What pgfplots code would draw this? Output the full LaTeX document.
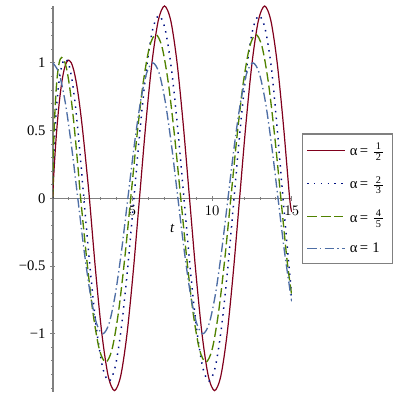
\documentclass[border=0pt]{standalone}
\usepackage{amsmath}
\usepackage{fontspec}
\setmainfont{Liberation Serif}
\usepackage{pgfplots}
\pgfplotsset{compat=1.18}

\definecolor{mplred}{RGB}{128,0,28}
\definecolor{mplblue}{RGB}{0,16,130}
\definecolor{mplgreen}{RGB}{80,130,0}
\definecolor{mplslate}{RGB}{78,110,165}
\definecolor{axgray}{RGB}{128,128,128}

\newcommand{\fr}[2]{$\frac{\,\text{#1}\,}{\,\text{#2}\,}$}

\begin{document}
\begin{tikzpicture}[font=\fontsize{11}{13}\selectfont]
\begin{axis}[
    scale only axis,
    width=179.25pt, height=289.5pt,
    xmin=0, xmax=15, ymin=-1.43, ymax=1.42,
    axis lines=middle,
    axis line style={draw=axgray, line width=1.1pt, -},
    hide obscured x ticks=false, hide obscured y ticks=false,
    xtick={5,10,15},
    minor xtick={1,2,3,4,6,7,8,9,11,12,13,14},
    ytick={-1,-0.5,0,0.5,1},
    yticklabels={−1,−0.5,0,0.5,1},
    minor ytick={-1.4,-1.3,-1.2,-1.1,-0.9,-0.8,-0.7,-0.6,-0.4,-0.3,-0.2,-0.1,
                 0.1,0.2,0.3,0.4,0.6,0.7,0.8,0.9,1.1,1.2,1.3,1.4},
    tick style={draw=axgray, line width=0.6pt},
    major tick length=4pt, minor tick length=2.5pt,
    xlabel={\textit{t}},
    xlabel style={at={(axis cs:7.5,-0.22)}, anchor=center},
    legend style={at={(axis cs:15.625,0.482)}, anchor=north west,
                  draw=axgray, line width=1.1pt, row sep=10pt,
                  inner xsep=3pt, inner ysep=5pt,
                  nodes={inner xsep=3pt}},
    legend cell align=left,
    legend image code/.code={\draw[#1] plot coordinates {(0cm,0cm) (1.0cm,0cm)};},
]
\coordinate (bbA) at (axis cs:-3.3125,1.4643);
\coordinate (bbB) at (axis cs:21.6875,-1.4891);

% alpha = 1/2
\addplot[draw=mplred, line width=0.9pt, smooth] coordinates {
 (0,0) (0.02,0.070) (0.05,0.145) (0.1,0.251) (0.2,0.429) (0.3,0.576) (0.4,0.699)
 (0.5,0.800) (0.6,0.882) (0.7,0.944) (0.8,0.986) (0.9,1.012) (1.0,1.02)
 (1.1625,1.0) (1.325,0.942) (1.4875,0.848) (1.65,0.721) (1.8125,0.567)
 (1.975,0.390) (2.1375,0.199) (2.3,0)
 (2.693,-0.543) (3.085,-1.004) (3.478,-1.312) (3.871,-1.420) (4.263,-1.312)
 (4.656,-1.004) (5.049,-0.543) (5.442,0) (5.834,0.543) (6.227,1.004)
 (6.620,1.312) (7.012,1.420) (7.405,1.312) (7.798,1.004) (8.190,0.543)
 (8.583,0) (8.976,-0.543) (9.369,-1.004) (9.761,-1.312) (10.154,-1.420)
 (10.547,-1.312) (10.939,-1.004) (11.332,-0.543) (11.725,0) (12.118,0.543)
 (12.510,1.004) (12.903,1.312) (13.296,1.420) (13.688,1.312) (14.081,1.004)
 (14.474,0.543) (14.867,0) (15,-0.1)
};
\addlegendentry{α\,=\;\fr{1}{2}}

% alpha = 2/3
\addplot[draw=mplblue, line width=1.1pt, smooth, dash pattern=on 1.1pt off 4pt] coordinates {
 (0,0) (0.02,0.147) (0.05,0.264) (0.1,0.407) (0.2,0.614) (0.3,0.760) (0.4,0.867)
 (0.5,0.943) (0.6,0.993) (0.7,1.021) (0.8,1.03)
 (0.94375,1.010) (1.0875,0.952) (1.23125,0.856) (1.375,0.728) (1.51875,0.573)
 (1.6625,0.394) (1.80625,0.201) (1.95,0)
 (2.343,-0.517) (2.735,-0.954) (3.128,-1.247) (3.521,-1.35) (3.913,-1.247)
 (4.306,-0.954) (4.699,-0.517) (5.092,0) (5.484,0.517) (5.877,0.954)
 (6.270,1.247) (6.662,1.35) (7.055,1.247) (7.448,0.954) (7.840,0.517)
 (8.233,0) (8.626,-0.517) (9.019,-0.954) (9.411,-1.247) (9.804,-1.35)
 (10.197,-1.247) (10.589,-0.954) (10.982,-0.517) (11.375,0) (11.767,0.517)
 (12.160,0.954) (12.553,1.247) (12.946,1.35) (13.338,1.247) (13.731,0.954)
 (14.08,0.52) (14.45,0) (14.84,-0.52) (15,-0.72)
};
\addlegendentry{α\,=\;\fr{2}{3}}

% alpha = 4/5
\addplot[draw=mplgreen, line width=1pt, smooth, dash pattern=on 7pt off 3pt] coordinates {
 (0,0) (0.02,0.22) (0.05,0.375) (0.1,0.55) (0.2,0.78) (0.3,0.92) (0.4,1.0)
 (0.48,1.03) (0.56,1.04)
 (0.70875,1.020) (0.8575,0.961) (1.00625,0.864) (1.155,0.735) (1.30375,0.578)
 (1.4525,0.398) (1.60125,0.203) (1.75,0)
 (2.143,-0.463) (2.535,-0.855) (2.928,-1.118) (3.321,-1.21) (3.713,-1.118)
 (4.106,-0.855) (4.499,-0.463) (4.892,0) (5.284,0.463) (5.677,0.855)
 (6.070,1.118) (6.462,1.21) (6.855,1.118) (7.248,0.855) (7.640,0.463)
 (8.033,0) (8.426,-0.463) (8.819,-0.855) (9.211,-1.118) (9.604,-1.21)
 (9.997,-1.118) (10.389,-0.855) (10.782,-0.463) (11.175,0) (11.567,0.463)
 (11.960,0.855) (12.353,1.118) (12.746,1.21) (13.138,1.118) (13.531,0.855)
 (13.924,0.463) (14.316,0) (14.709,-0.463) (15,-0.72)
};
\addlegendentry{α\,=\;\fr{4}{5}}

% alpha = 1
\addplot[draw=mplslate, line width=1pt, smooth, dash pattern=on 7pt off 2.5pt on 1pt off 2.5pt] coordinates {
 (0,1) (0.393,0.924) (0.785,0.707) (1.178,0.383) (1.571,0) (1.963,-0.383)
 (2.356,-0.707) (2.749,-0.924) (3.142,-1) (3.534,-0.924) (3.927,-0.707)
 (4.320,-0.383) (4.712,0) (5.105,0.383) (5.498,0.707) (5.890,0.924)
 (6.283,1) (6.676,0.924) (7.069,0.707) (7.461,0.383) (7.854,0)
 (8.247,-0.383) (8.639,-0.707) (9.032,-0.924) (9.425,-1) (9.817,-0.924)
 (10.210,-0.707) (10.603,-0.383) (10.996,0) (11.388,0.383) (11.781,0.707)
 (12.174,0.924) (12.566,1) (12.959,0.924) (13.352,0.707) (13.744,0.383)
 (14.137,0) (14.530,-0.383) (14.923,-0.707) (15,-0.760)
};
\addlegendentry{α\,=\;1}
\end{axis}
\pgfresetboundingbox
\path[use as bounding box] (bbA) rectangle (bbB);
\end{tikzpicture}
\end{document}
